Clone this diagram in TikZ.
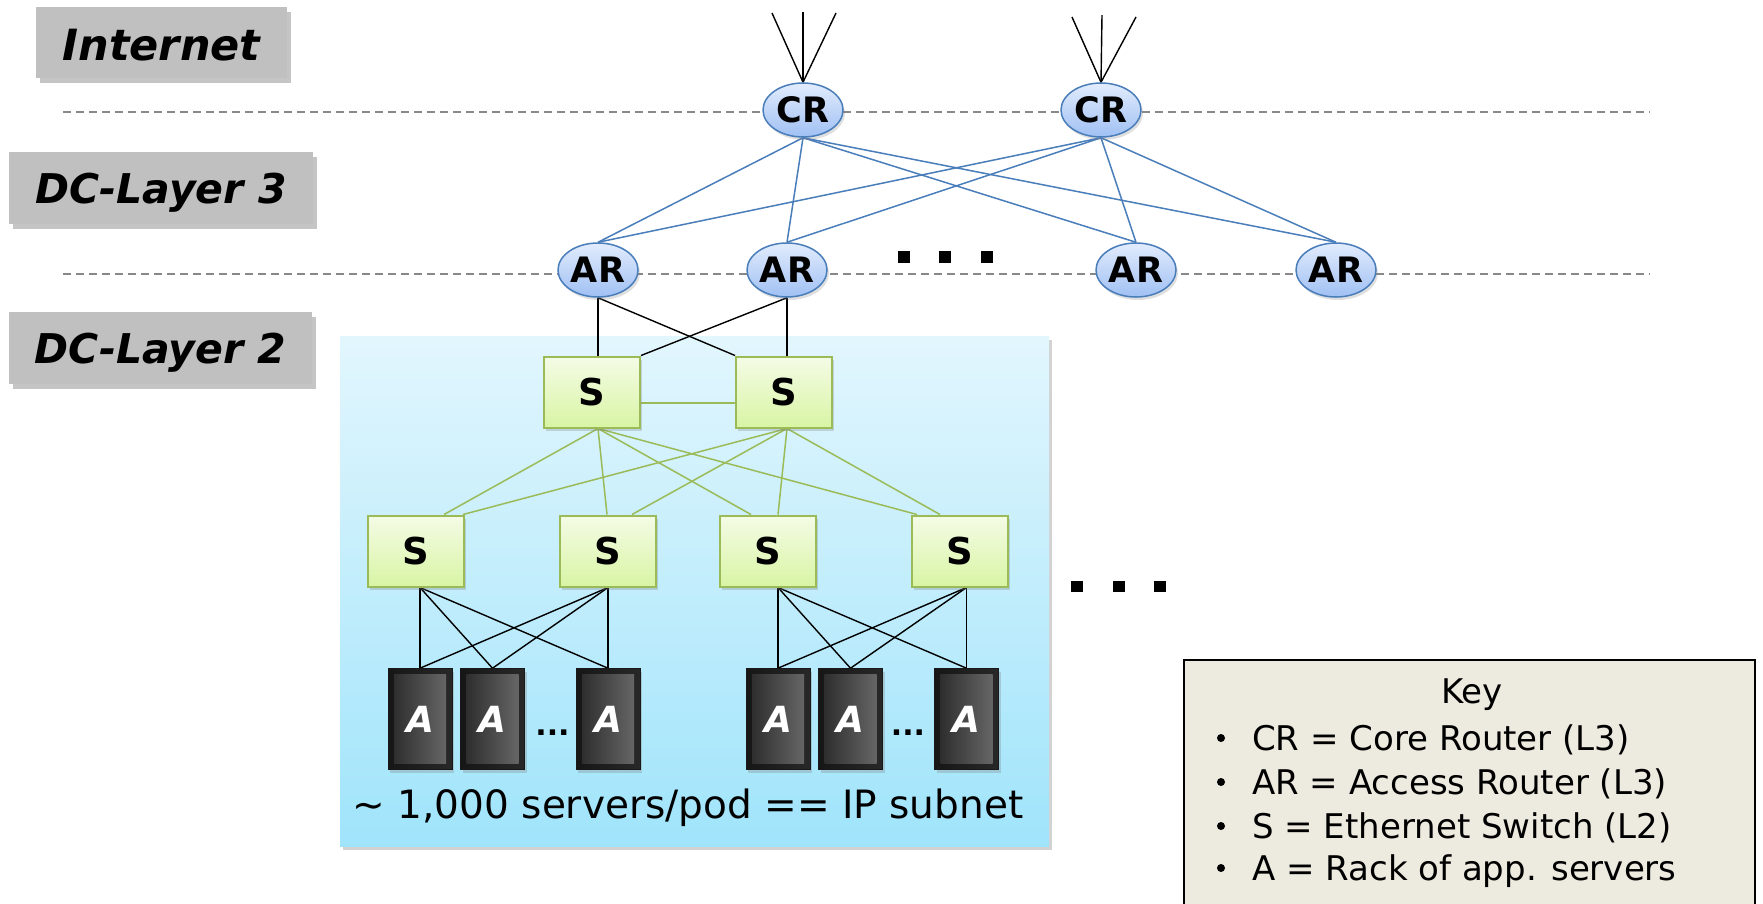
\documentclass[tikz,border=0pt]{standalone}
\usepackage{fontspec}
\setmainfont{DejaVu Sans}
\usetikzlibrary{shapes.geometric,shadows,calc}
\pgfdeclarelayer{back}
\pgfdeclarelayer{mid}
\pgfsetlayers{back,mid,main}

\definecolor{crblue}{RGB}{74,126,187}
\definecolor{ellTop}{RGB}{226,236,253}
\definecolor{ellBot}{RGB}{160,192,243}
\definecolor{sgreen}{RGB}{155,187,89}
\definecolor{sTop}{RGB}{245,251,230}
\definecolor{sBot}{RGB}{216,245,164}
\definecolor{podTop}{RGB}{226,246,253}
\definecolor{podBot}{RGB}{160,228,251}
\definecolor{lblgray}{RGB}{192,192,192}
\definecolor{dashgray}{RGB}{136,136,136}
\definecolor{keybg}{RGB}{237,234,224}
\definecolor{rackOutL}{RGB}{22,22,22}
\definecolor{rackOutR}{RGB}{40,40,40}
\definecolor{rackL}{RGB}{40,40,40}
\definecolor{rackR}{RGB}{108,108,108}

\tikzset{
  lbl/.style={rectangle, fill=lblgray, inner sep=0pt,
    font=\fontsize{41}{46}\selectfont\bfseries\itshape,
    drop shadow={shadow xshift=4pt, shadow yshift=-5pt, opacity=0.45}},
  router/.style={ellipse, draw=crblue, line width=1.5pt, top color=ellTop, bottom color=ellBot,
    minimum width=80pt, minimum height=54pt, inner sep=0pt,
    font=\fontsize{35}{40}\selectfont\bfseries,
    drop shadow={shadow xshift=2pt, shadow yshift=-3pt, opacity=0.25}},
  switchbox/.style={rectangle, draw=sgreen, line width=2pt, top color=sTop, bottom color=sBot,
    minimum width=96pt, minimum height=71pt, inner sep=0pt,
    font=\fontsize{37}{40}\selectfont\bfseries,
    drop shadow={shadow xshift=2pt, shadow yshift=-3pt, opacity=0.3}},
  rack/.style={rectangle, left color=rackOutL, right color=rackOutR, draw=black!90, line width=0.6pt,
    minimum width=64pt, minimum height=101pt, inner sep=0pt, text=white,
    font=\fontsize{36}{40}\selectfont\bfseries\itshape,
    drop shadow={shadow xshift=2pt, shadow yshift=-3pt, opacity=0.3},
    path picture={\shade[left color=rackL, right color=rackR]
      ([shift={(6pt,-6pt)}]path picture bounding box.north west) rectangle
      ([shift={(-6pt,6pt)}]path picture bounding box.south east);}},
  bluelink/.style={draw=crblue, line width=1.5pt},
  greenlink/.style={draw=sgreen, line width=1.5pt},
  blacklink/.style={draw=black, line width=1.4pt},
  layerline/.style={draw=dashgray, line width=2pt, dash pattern=on 8pt off 5pt},
  keytxt/.style={font=\fontsize{34}{40}\selectfont, inner sep=0pt},
  dotstxt/.style={font=\fontsize{30}{30}\selectfont\bfseries, inner sep=0pt}
}

\begin{document}
\begin{tikzpicture}[x=1pt,y=-1pt]
\useasboundingbox (0,0) rectangle (1763,903);
\clip (0,0) rectangle (1763,903);

% ---------- backgrounds ----------
\begin{pgfonlayer}{back}
  \fill[white] (0,0) rectangle (1763,903);
  \path[top color=podTop, bottom color=podBot,
        drop shadow={shadow xshift=3pt, shadow yshift=-4pt, opacity=0.35}]
        (340,336) rectangle (1049,846);
  \draw[layerline] (63,112) -- (1650,112);
  \draw[layerline] (63,274) -- (1650,274);
\end{pgfonlayer}

% ---------- layer labels ----------
\node[lbl, minimum width=251pt, minimum height=71pt, text height=40pt, text depth=5pt, font=\fontsize{43}{48}\selectfont\bfseries\itshape] (Linet) at (161.5,42.5) {Internet};
\node[lbl, minimum width=304pt, minimum height=72pt, text height=38pt, text depth=8pt] (Lthree) at (161,188) {DC-Layer 3};
\node[lbl, minimum width=303pt, minimum height=72pt, text height=38pt, text depth=8pt] (Ltwo) at (160.5,348) {DC-Layer 2};

% ---------- routers ----------
\node[router] (CR1) at (803,110) {CR};
\node[router] (CR2) at (1101,110) {CR};
\node[router] (AR1) at (598,270) {AR};
\node[router] (AR2) at (787,270) {AR};
\node[router] (AR3) at (1136,270) {AR};
\node[router] (AR4) at (1336,270) {AR};

% ---------- switches ----------
\node[switchbox] (S1) at (592,392) {S};
\node[switchbox] (S2) at (784,392) {S};
\node[switchbox] (S3) at (416,551) {S};
\node[switchbox] (S4) at (608,551) {S};
\node[switchbox] (S5) at (768,551) {S};
\node[switchbox] (S6) at (960,551) {S};

% ---------- racks ----------
\node[rack] (R1) at (420,719) {A};
\node[rack] (R2) at (492.5,719) {A};
\node[rack] (R3) at (608,719) {A};
\node[rack] (R4) at (778,719) {A};
\node[rack] (R5) at (850.5,719) {A};
\node[rack] (R6) at (966.5,719) {A};
\node[dotstxt, anchor=base] (rdots1) at (552.5,735) {...};
\node[dotstxt, anchor=base] (rdots2) at (908,735) {...};

% ---------- caption ----------
\node[font=\fontsize{39}{44}\selectfont, inner sep=0pt, anchor=base] (podcap) at (688,818)
  {\textasciitilde{} 1,000 servers/pod == IP subnet};

% ---------- antenna ends ----------
\coordinate (a1l) at (772,13);
\coordinate (a1m) at (803,12);
\coordinate (a1r) at (836,13);
\coordinate (a2l) at (1072,17);
\coordinate (a2m) at (1102,15);
\coordinate (a2r) at (1136,17);

% ---------- connectors ----------
\begin{pgfonlayer}{mid}
  \foreach \e in {a1l,a1m,a1r} \draw[blacklink] (CR1.north) -- (\e);
  \foreach \e in {a2l,a2m,a2r} \draw[blacklink] (CR2.north) -- (\e);
  \foreach \c in {CR1,CR2}
    \foreach \a in {AR1,AR2,AR3,AR4}
      \draw[bluelink] (\c.south) -- (\a.north);
  % AR - S
  \draw[blacklink] (AR1.south) -- (AR1.south |- S1.north);
  \draw[blacklink] (AR1.south) -- (S2.north west);
  \draw[blacklink] (AR2.south) -- (S1.north east);
  \draw[blacklink] (AR2.south) -- (AR2.south |- S2.north);
  % S - S
  \draw[greenlink] ([yshift=-11pt]S1.east) -- ([yshift=-11pt]S2.west);
  \coordinate (S1o) at (AR1.south |- S1.south);
  \coordinate (S2o) at (AR2.south |- S2.south);
  \draw[greenlink] (S1o) -- ([xshift=28pt]S3.north);
  \draw[greenlink] (S1o) -- ([xshift=-1pt]S4.north);
  \draw[greenlink] (S1o) -- ([xshift=-17pt]S5.north);
  \draw[greenlink] (S1o) -- ([xshift=-43pt]S6.north);
  \draw[greenlink] (S2o) -- ([xshift=47pt]S3.north);
  \draw[greenlink] (S2o) -- ([xshift=24pt]S4.north);
  \draw[greenlink] (S2o) -- ([xshift=10pt]S5.north);
  \draw[greenlink] (S2o) -- ([xshift=-20pt]S6.north);
  % S - racks
  \coordinate (S3o) at (R1.north |- S3.south);
  \coordinate (S4o) at (R3.north |- S4.south);
  \coordinate (S5o) at (R4.north |- S5.south);
  \coordinate (S6o) at (R6.north |- S6.south);
  \foreach \r in {R1,R2,R3} {
    \draw[blacklink] (S3o) -- (\r.north);
    \draw[blacklink] (S4o) -- (\r.north);
  }
  \foreach \r in {R4,R5,R6} {
    \draw[blacklink] (S5o) -- (\r.north);
    \draw[blacklink] (S6o) -- (\r.north);
  }
\end{pgfonlayer}

% ---------- ellipsis squares ----------
\fill (898,251) rectangle (910,263);
\fill (939,251) rectangle (951,263);
\fill (981,251) rectangle (993,263);
\fill (1071,581) rectangle (1083,592);
\fill (1113,581) rectangle (1125,592);
\fill (1154,581) rectangle (1166,592);

% ---------- key ----------
\draw[line width=2.5pt, fill=keybg] (1184,660) rectangle (1755,925);
\node[keytxt, anchor=base] (keyttl) at (1472,703) {Key};
\node[keytxt, anchor=base west] (k1) at (1252,750) {CR = Core Router (L3)};
\node[keytxt, anchor=base west] (k2) at (1252,794) {AR = Access Router (L3)};
\node[keytxt, anchor=base west] (k3) at (1252,838) {S = Ethernet Switch (L2)};
\node[keytxt, anchor=base west] (k4) at (1252,880) {A = Rack of app. servers};
\fill (1221,738) circle (4pt);
\fill (1221,782) circle (4pt);
\fill (1221,826) circle (4pt);
\fill (1221,868) circle (4pt);
\end{tikzpicture}
\end{document}
